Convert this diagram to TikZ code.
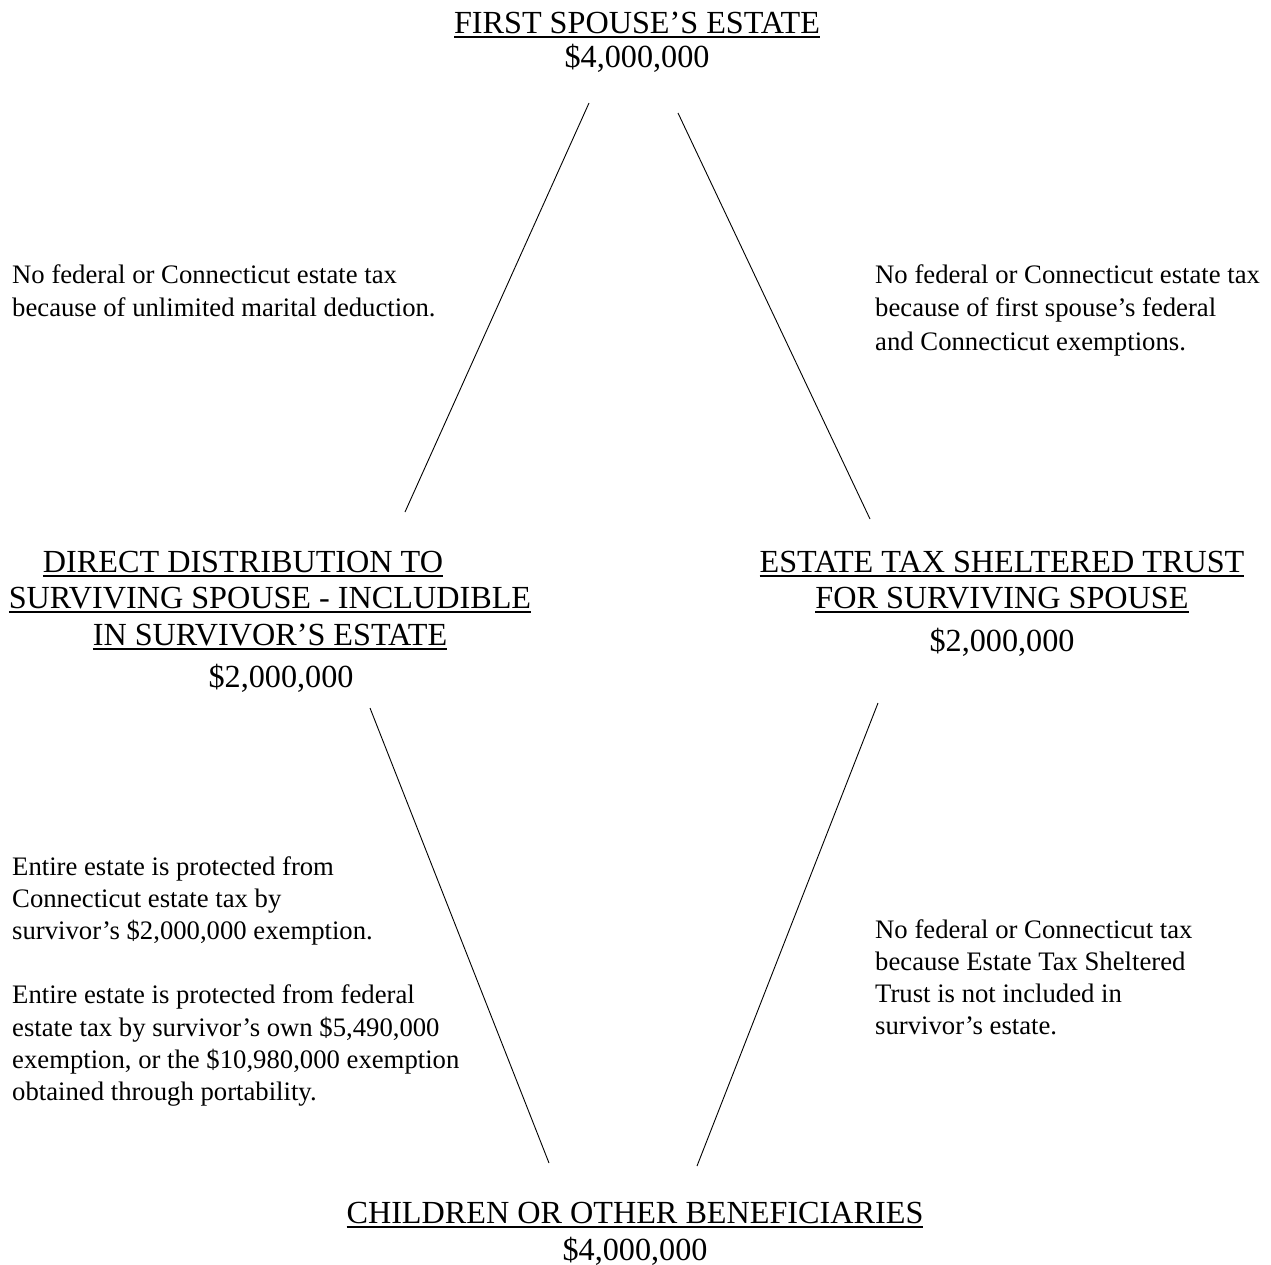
\documentclass[tikz,border=0pt]{standalone}
\usepackage{fontspec}
\setmainfont{Liberation Serif}
\newcommand\myul[1]{\setbox0=\hbox{#1}\rlap{\rule[-4.5pt]{\wd0}{2pt}}\box0}
\newcommand\hblock[1]{\begin{tabular}[t]{@{}c@{}}#1\end{tabular}}
\newcommand\bblock[1]{\begin{tabular}[t]{@{}l@{}}#1\end{tabular}}
\tikzset{
  head/.style={inner sep=0pt, anchor=base, font=\fontsize{32.2}{36.5}\selectfont},
  body/.style={inner sep=0pt, anchor=base west, font=\fontsize{26.7}{33.5}\selectfont},
  bodylow/.style={body, font=\fontsize{26.7}{32.2}\selectfont},
  conn/.style={draw=black, line width=0.9pt}
}
\begin{document}
\begin{tikzpicture}[x=1pt,y=-1pt]
\useasboundingbox (0,0) rectangle (1271,1264);
% headings
\node[head] (top) at (637,33) {\hblock{\myul{FIRST SPOUSE’S ESTATE}\\[-2pt] \$4,000,000}};
\node[head] (left) at (270,572) {\hblock{\myul{DIRECT DISTRIBUTION TO}\hspace*{54pt}\\ \myul{SURVIVING SPOUSE - INCLUDIBLE}\\ \myul{IN SURVIVOR’S ESTATE}\\[6pt] \hspace*{22pt}\$2,000,000}};
\node[head] (right) at (1002,572) {\hblock{\myul{ESTATE TAX SHELTERED TRUST}\\ \myul{FOR SURVIVING SPOUSE}\\[6pt] \$2,000,000}};
\node[head] (bottom) at (635,1223) {\hblock{\myul{CHILDREN OR OTHER BENEFICIARIES}\\[0.5pt] \$4,000,000}};
% explanations
\node[body] (tl) at (12,283) {\bblock{No federal or Connecticut estate tax\\because of unlimited marital deduction.}};
\node[body] (tr) at (875,283) {\bblock{No federal or Connecticut estate tax\\because of first spouse’s federal\\and Connecticut exemptions.}};
\node[bodylow] (bl) at (12,875) {\bblock{Entire estate is protected from\\Connecticut estate tax by\\survivor’s \$2,000,000 exemption.\\ \\Entire estate is protected from federal\\estate tax by survivor’s own \$5,490,000\\exemption, or the \$10,980,000 exemption\\obtained through portability.}};
\node[bodylow] (br) at (875,938) {\bblock{No federal or Connecticut tax\\because Estate Tax Sheltered\\Trust is not included in\\survivor’s estate.}};
% connector end points
\coordinate (a1) at (589,103); \coordinate (a2) at (405,512);
\coordinate (b1) at (678,113); \coordinate (b2) at (870,519);
\coordinate (c1) at (370,708); \coordinate (c2) at (549,1163);
\coordinate (d1) at (878,703); \coordinate (d2) at (697,1166);
\draw[conn] (a1) -- (a2);
\draw[conn] (b1) -- (b2);
\draw[conn] (c1) -- (c2);
\draw[conn] (d1) -- (d2);
\end{tikzpicture}
\end{document}
